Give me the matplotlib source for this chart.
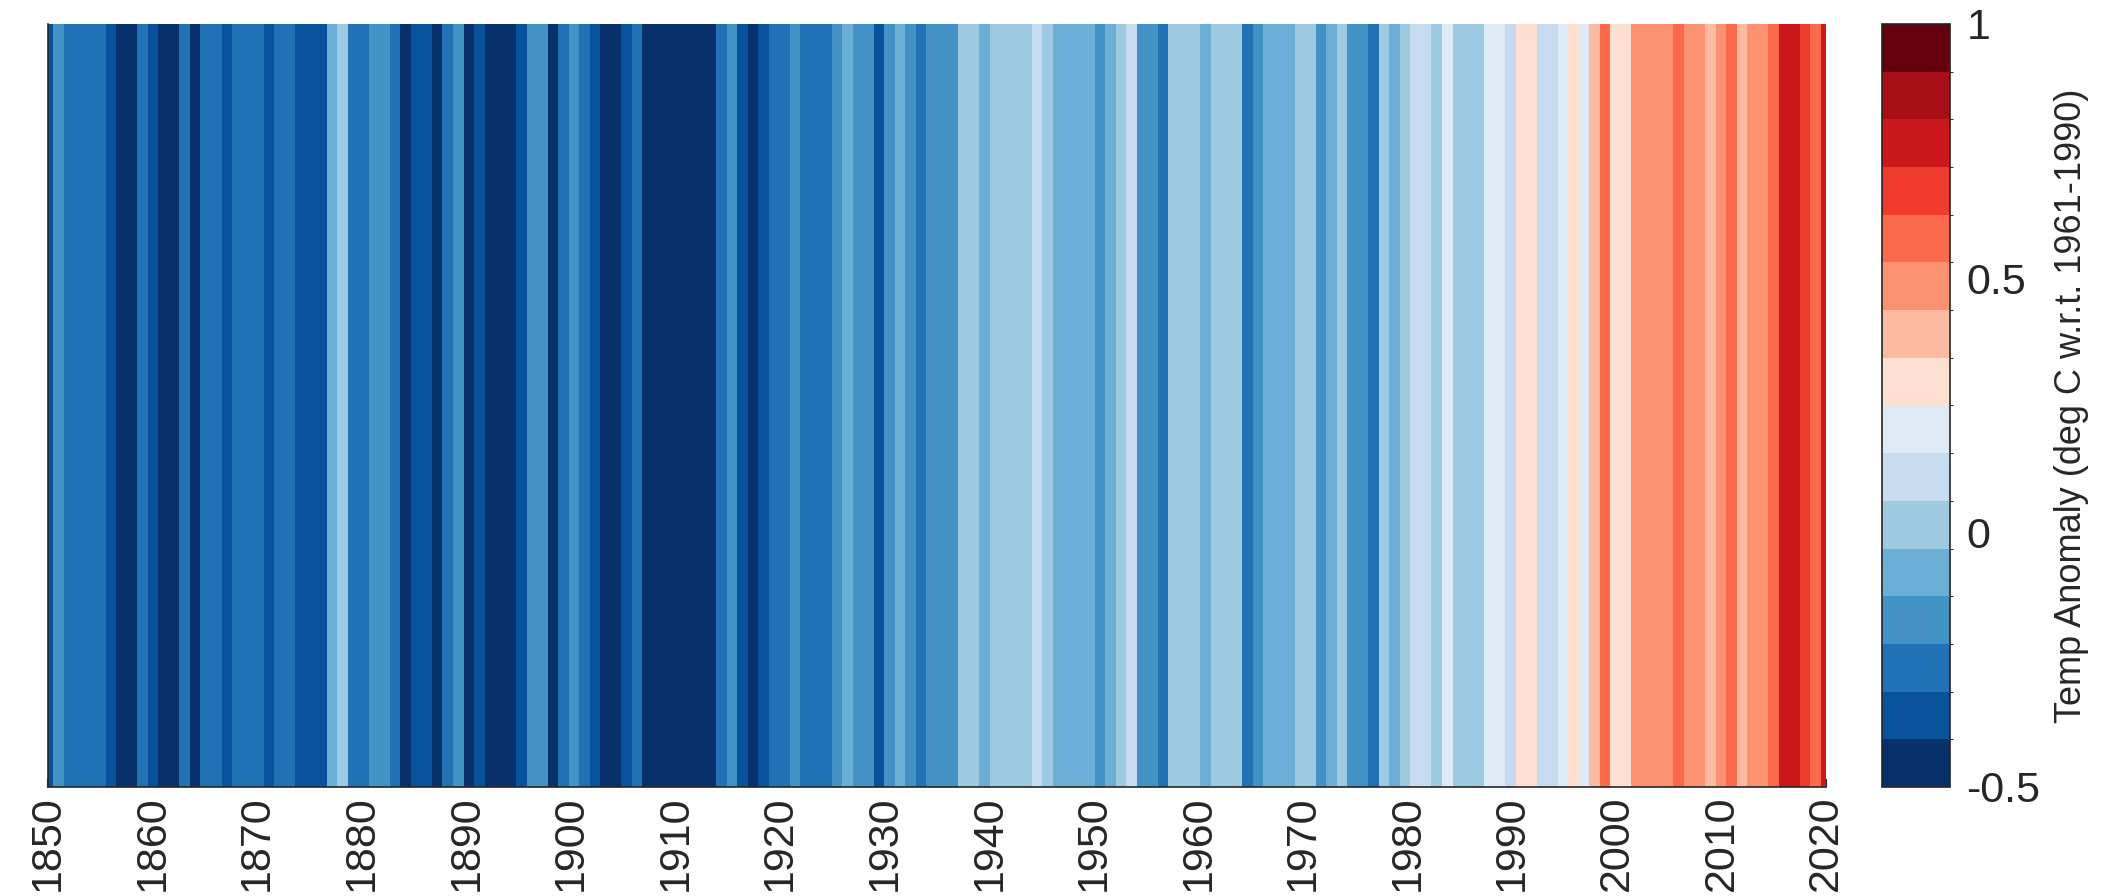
import numpy as np
import matplotlib
matplotlib.use('Agg')
import matplotlib.pyplot as plt
from matplotlib.colors import ListedColormap, BoundaryNorm

# annual temperature anomaly (deg C w.r.t. 1961-1990), read from the stripes
years = np.arange(1850, 2020)
anomaly = [
    -0.37, -0.20, -0.23, -0.27, -0.25, -0.27, -0.36, -0.46, -0.47, -0.28,  # 1850s
    -0.34, -0.42, -0.48, -0.28, -0.47, -0.28, -0.25, -0.33, -0.24, -0.26,  # 1860s
    -0.28, -0.34, -0.23, -0.30, -0.37, -0.39, -0.38, -0.08, 0.03, -0.23,   # 1870s
    -0.23, -0.20, -0.21, -0.27, -0.42, -0.39, -0.35, -0.44, -0.30, -0.17,  # 1880s
    -0.43, -0.37, -0.46, -0.47, -0.42, -0.38, -0.19, -0.16, -0.42, -0.27,  # 1890s
    -0.20, -0.25, -0.37, -0.45, -0.49, -0.35, -0.28, -0.44, -0.47, -0.49,  # 1900s
    -0.46, -0.49, -0.43, -0.42, -0.25, -0.19, -0.36, -0.44, -0.33, -0.27,  # 1910s
    -0.25, -0.19, -0.28, -0.26, -0.25, -0.21, -0.09, -0.21, -0.21, -0.36,  # 1920s
    -0.16, -0.10, -0.16, -0.29, -0.15, -0.20, -0.15, -0.02, -0.01, -0.05,  # 1930s
    0.04, 0.04, 0.00, 0.00, 0.12, 0.01, -0.09, -0.06, -0.07, -0.08,        # 1940s
    -0.17, -0.07, 0.01, 0.08, -0.13, -0.15, -0.26, 0.00, 0.05, 0.01,       # 1950s
    -0.05, 0.04, 0.04, 0.05, -0.23, -0.15, -0.07, -0.04, -0.07, 0.05,      # 1960s
    0.02, -0.14, -0.04, 0.05, -0.14, -0.14, -0.23, 0.05, -0.04, 0.05,      # 1970s
    0.10, 0.14, 0.03, 0.18, 0.00, 0.00, 0.04, 0.18, 0.19, 0.11,            # 1980s
    0.29, 0.26, 0.10, 0.14, 0.18, 0.28, 0.21, 0.39, 0.56, 0.30,            # 1990s
    0.29, 0.44, 0.49, 0.51, 0.45, 0.55, 0.51, 0.49, 0.39, 0.50,            # 2000s
    0.56, 0.43, 0.47, 0.51, 0.58, 0.76, 0.80, 0.68, 0.60, 0.74,            # 2010s
]

stripe_colors = ['#08306b', '#08519c', '#2171b5', '#4292c6',
                 '#6baed6', '#9ecae1', '#c6dbef', '#deebf7',
                 '#fee0d2', '#fcbba1', '#fc9272', '#fb6a4a',
                 '#ef3b2c', '#cb181d', '#a50f15', '#67000d']
cbar_ticks = [-0.5, 0, 0.5, 1]
cbar_ticklabels = ['-0.5', '0', '0.5', '1']
year_ticks = np.arange(1850, 2021, 10)

plt.rcParams['font.family'] = ['Liberation Sans', 'DejaVu Sans']
text_color = '#262626'

cmap = ListedColormap(stripe_colors)
bounds = np.linspace(-0.5, 1.0, len(stripe_colors) + 1)
norm = BoundaryNorm(bounds, cmap.N)

fig = plt.figure(figsize=(21.11, 8.96), dpi=100)
ax = fig.add_axes([0.0227, 0.1217, 0.8423, 0.8516])
cax = fig.add_axes([0.8915, 0.1217, 0.0322, 0.8516])

# image-style stripes: columns spread evenly from 1850 to 2020
centers = np.linspace(1850, 2020, len(years))
step = centers[1] - centers[0]
edges = np.concatenate([centers - step / 2, [centers[-1] + step / 2]])
data = np.array(anomaly).reshape(1, -1)
mesh = ax.pcolormesh(edges, [0, 1], data, cmap=cmap, norm=norm)

ax.set_xlim(1850, 2020)
ax.set_ylim(0, 1)
ax.set_yticks([])
ax.set_xticks(year_ticks)
ax.set_xticklabels([str(y) for y in year_ticks], rotation=90, fontsize=31, color=text_color)
ax.set_axisbelow(True)
ax.tick_params(axis='x', direction='in', length=6, width=1.5, color=text_color, pad=6)
for side in ['top', 'right']:
    ax.spines[side].set_visible(False)
for side in ['left', 'bottom']:
    ax.spines[side].set_color(text_color)
    ax.spines[side].set_linewidth(1.2)
    ax.spines[side].set_zorder(3)

cb = fig.colorbar(mesh, cax=cax, boundaries=bounds, ticks=cbar_ticks)
cb.ax.set_yticklabels(cbar_ticklabels, fontsize=31, color=text_color)
cb.ax.tick_params(length=0, pad=12)
cb.outline.set_edgecolor(text_color)
cb.outline.set_linewidth(1.2)
cb.set_label('Temp Anomaly (deg C w.r.t. 1961-1990)', fontsize=26, color=text_color, labelpad=10)

plt.savefig('out.png', dpi=100)
plt.close('all')
